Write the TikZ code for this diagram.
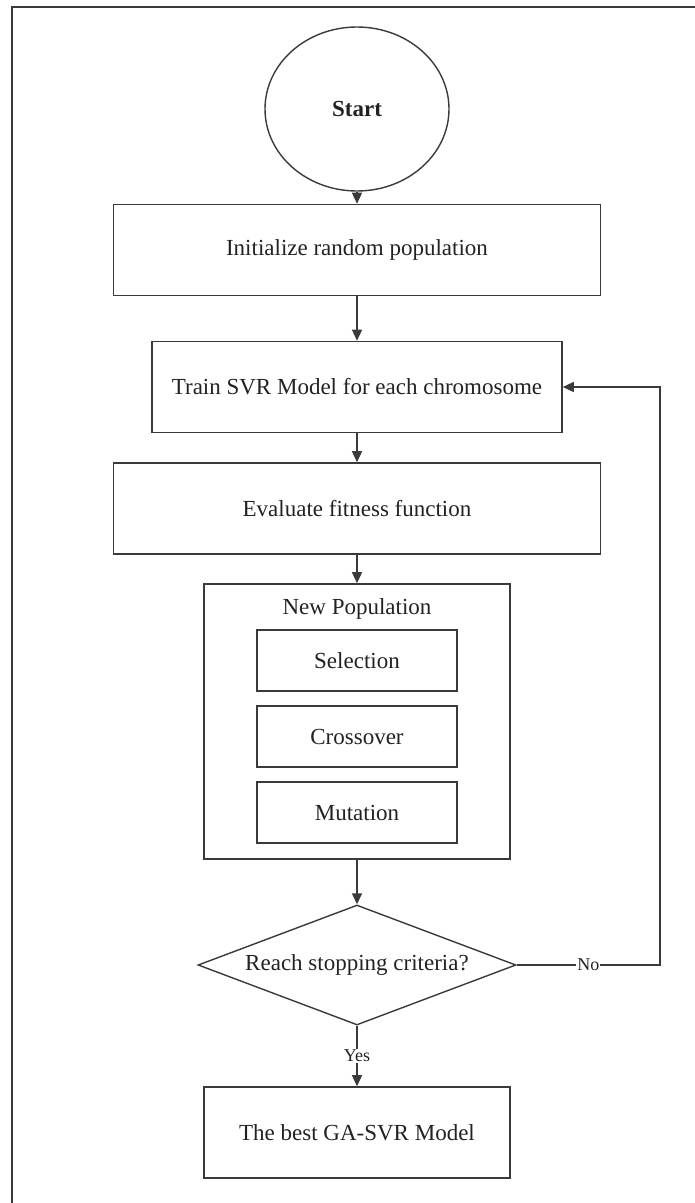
\documentclass[tikz,border=0pt]{standalone}
\usepackage{fontspec}
\setmainfont{Liberation Serif}
\usetikzlibrary{arrows.meta, shapes.geometric}
\definecolor{inkgray}{HTML}{3A3A3A}
\definecolor{txtgray}{HTML}{222222}

\tikzset{
  flowbox/.style={draw=inkgray, line width=1.6pt, rectangle, inner sep=0pt,
    minimum height=91pt, text=txtgray, font=\fontsize{23}{27}\selectfont},
  subbox/.style={flowbox, minimum width=200pt, minimum height=61pt},
  startnode/.style={draw=inkgray, line width=1.4pt, ellipse, inner sep=0pt,
    minimum width=184pt, minimum height=164pt, text=txtgray,
    font=\fontsize{23}{27}\selectfont\bfseries},
  decision/.style={draw=inkgray, line width=1.4pt, diamond, inner sep=0pt, aspect=2.65,
    minimum width=318pt, minimum height=120pt, text=txtgray,
    font=\fontsize{23}{27}\selectfont},
  flowarrow/.style={draw=inkgray, line width=1.4pt, -{Triangle[length=11pt, width=10pt]}},
  lbl/.style={fill=white, inner sep=1pt, text=txtgray, font=\fontsize{18}{20}\selectfont}
}

\begin{document}
\begin{tikzpicture}[x=1pt, y=-1pt]
\useasboundingbox (0,0) rectangle (695,1203);

% Frame (top and left edge only)
\draw[inkgray, line width=2pt] (695,7) -- (12,7) -- (12,1203);

% Main column
\node[startnode] (start) at (357,109) {Start};
\node[flowbox, minimum width=487pt] (init) at (357,250) {Initialize random population};
\node[flowbox, minimum width=410pt] (train) at (357,387) {Train SVR Model for each chromosome};
\node[flowbox, minimum width=487pt] (eval) at (357,508.5) {Evaluate fitness function};

% New population block
\node[flowbox, minimum width=306pt, minimum height=275pt] (newpop) at (357,721.5) {};
\node[text=txtgray, font=\fontsize{23}{27}\selectfont] (newpoplbl) at (357,609) {New Population};
\node[subbox] (sel) at (357,660.5) {Selection};
\node[subbox] (cross) at (357,736.5) {Crossover};
\node[subbox] (mut) at (357,812.5) {Mutation};

% Stopping test and result
\node[decision] (stop) at (357,965) {Reach stopping criteria?};
\node[flowbox, minimum width=306pt] (best) at (357,1132.5) {The best GA-SVR Model};
\coordinate (loop) at (660,965);

% Arrows
\draw[flowarrow] (start) -- (init);
\draw[flowarrow] (init) -- (train);
\draw[flowarrow] (train) -- (eval);
\draw[flowarrow] (eval) -- (newpop);
\draw[flowarrow] (newpop) -- (stop);
\draw[flowarrow] (stop) -- node[lbl] {Yes} (best);
\draw[flowarrow] (stop.east) -- node[lbl] {No} (loop) |- (train.east);

\end{tikzpicture}
\end{document}
